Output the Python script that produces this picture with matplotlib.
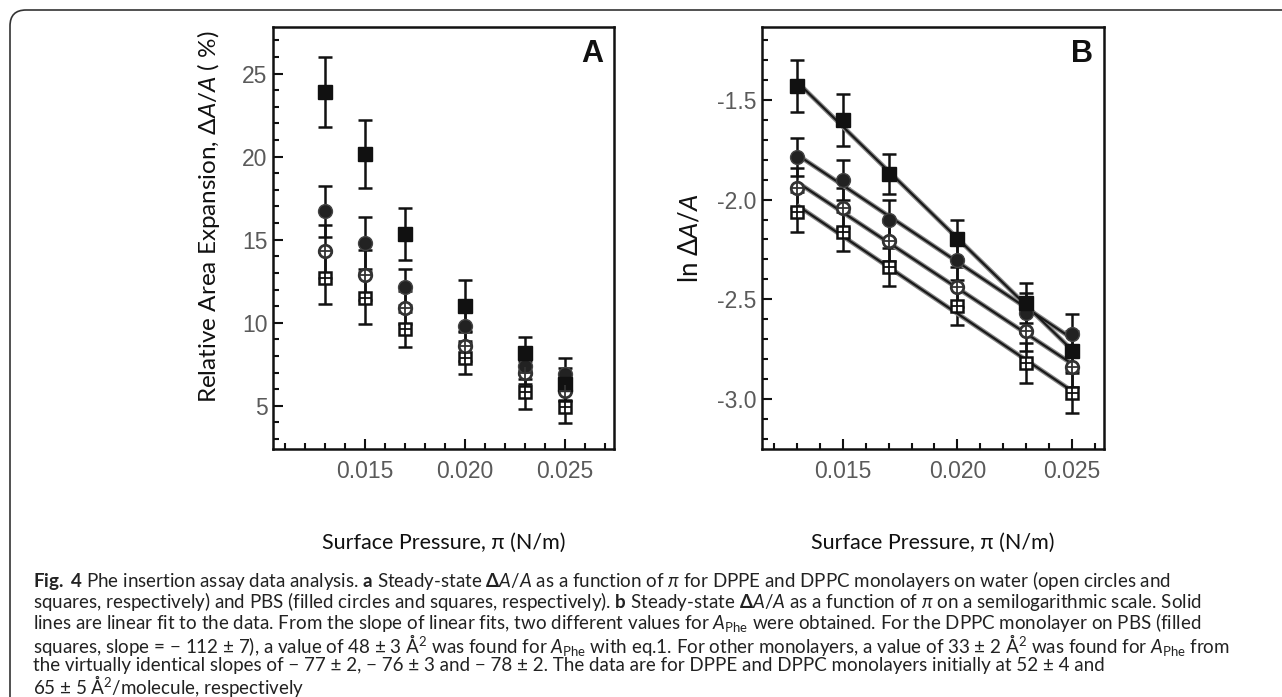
import matplotlib
matplotlib.use("Agg")
import matplotlib.pyplot as plt
from matplotlib.patches import FancyBboxPatch
from matplotlib.ticker import MultipleLocator, FormatStrFormatter
import numpy as np

plt.rcParams["font.family"] = ["Lato", "DejaVu Sans"]
plt.rcParams["mathtext.fontset"] = "custom"
plt.rcParams["mathtext.rm"] = "Lato"
plt.rcParams["mathtext.it"] = "Lato:italic"
plt.rcParams["mathtext.bf"] = "Lato:bold"
plt.rcParams["axes.unicode_minus"] = False

PRESSURE = [0.013, 0.015, 0.017, 0.020, 0.023, 0.025]

# panel A: relative area expansion, %
PBS_DPPC = [23.9, 20.15, 15.35, 11.0, 8.15, 6.3]
PBS_DPPC_ERR = [2.1, 2.05, 1.55, 1.55, 0.97, 0.95]
PBS_DPPE = [16.7, 14.8, 12.15, 9.8, 7.4, 6.9]
PBS_DPPE_ERR = [1.55, 1.55, 1.1, 1.0, 0.8, 1.0]
WATER_DPPE = [14.3, 12.85, 10.9, 8.6, 7.0, 5.9]
WATER_DPPE_ERR = [1.6, 1.5, 1.0, 0.9, 0.7, 0.6]
WATER_DPPC = [12.7, 11.5, 9.6, 7.9, 5.85, 4.95]
WATER_DPPC_ERR = [1.57, 1.55, 1.05, 1.0, 1.05, 1.0]

# panel B: ln(dA/A)
LN_PBS_DPPC = [-1.43, -1.60, -1.87, -2.20, -2.52, -2.76]
LN_PBS_DPPC_ERR = [0.13, 0.13, 0.10, 0.10, 0.10, 0.10]
LN_PBS_DPPE = [-1.785, -1.90, -2.10, -2.305, -2.57, -2.675]
LN_PBS_DPPE_ERR = [0.095, 0.10, 0.10, 0.10, 0.10, 0.10]
LN_WATER_DPPE = [-1.94, -2.04, -2.21, -2.44, -2.66, -2.84]
LN_WATER_DPPE_ERR = [0.10, 0.10, 0.10, 0.10, 0.10, 0.10]
LN_WATER_DPPC = [-2.06, -2.16, -2.34, -2.535, -2.82, -2.97]
LN_WATER_DPPC_ERR = [0.10, 0.10, 0.095, 0.095, 0.10, 0.10]

CAPTION = [
    r"$\mathbf{Fig.\ 4}$ Phe insertion assay data analysis. $\mathbf{a}$ Steady-state $\mathbf{\Delta}\mathit{A/A}$ as a function of $\mathit{\pi}$ for DPPE and DPPC monolayers on water (open circles and",
    r"squares, respectively) and PBS (filled circles and squares, respectively). $\mathbf{b}$ Steady-state $\mathbf{\Delta}\mathit{A/A}$ as a function of $\mathit{\pi}$ on a semilogarithmic scale. Solid",
    r"lines are linear fit to the data. From the slope of linear fits, two different values for $\mathit{A}_{\mathrm{Phe}}$ were obtained. For the DPPC monolayer on PBS (filled",
    r"squares, slope = − 112 ± 7), a value of 48 ± 3 Å$^{2}$ was found for $\mathit{A}_{\mathrm{Phe}}$ with eq.1. For other monolayers, a value of 33 ± 2 Å$^{2}$ was found for $\mathit{A}_{\mathrm{Phe}}$ from",
    r"the virtually identical slopes of − 77 ± 2, − 76 ± 3 and − 78 ± 2. The data are for DPPE and DPPC monolayers initially at 52 ± 4 and",
    r"65 ± 5 Å$^{2}$/molecule, respectively",
]
CAPTION_Y = [581, 601.5, 622, 644.5, 665.5, 686]

W, H = 1282, 697
fig = plt.figure(figsize=(W / 100, H / 100), dpi=100)

frame = FancyBboxPatch((10, -30), 1320, H - 10 + 30,
                       boxstyle="round,pad=0,rounding_size=16",
                       transform=None, facecolor="none",
                       edgecolor="#333333", linewidth=1.2)
fig.add_artist(frame)

ax_a = fig.add_axes([273 / W, 1 - 449 / H, 341 / W, 422 / H])
ax_b = fig.add_axes([762 / W, 1 - 449 / H, 342 / W, 422 / H])

INK = "#111111"
TICK_GREY = "#5a5a5a"


def series(ax, y, err, kind):
    ax.errorbar(PRESSURE, y, yerr=err, fmt="none", ecolor=INK,
                elinewidth=1.8, capsize=5, capthick=1.8, zorder=2)
    if kind == "fsq":
        ax.plot(PRESSURE, y, ls="none", marker="s", ms=10, mfc=INK, mec=INK, zorder=4)
    elif kind == "fci":
        ax.plot(PRESSURE, y, ls="none", marker="o", ms=10, mfc="#222222", mec="#444444",
                mew=1.0, zorder=4)
    elif kind == "osq":
        ax.plot(PRESSURE, y, ls="none", marker="s", ms=9, mfc="white", mec=INK, mew=1.8, zorder=4)
        ax.plot(PRESSURE, y, ls="none", marker="+", ms=8, mec=INK, mew=1.3, zorder=5)
    else:
        ax.plot(PRESSURE, y, ls="none", marker="o", ms=9, mfc="white", mec="#333333", mew=2.0,
                zorder=4)
        ax.plot(PRESSURE, y, ls="none", marker="+", ms=8, mec="#333333", mew=1.3, zorder=5)


def style(ax, ylabel, ysize, ylabel_xy, xlim, ylim, ymajor, yminor, yfmt, letter):
    ax.set_xlim(*xlim)
    ax.set_ylim(*ylim)
    ax.xaxis.set_major_locator(MultipleLocator(0.005))
    ax.xaxis.set_minor_locator(MultipleLocator(0.001))
    ax.xaxis.set_major_formatter(FormatStrFormatter("%.3f"))
    ax.yaxis.set_major_locator(MultipleLocator(ymajor))
    ax.yaxis.set_minor_locator(MultipleLocator(yminor))
    ax.yaxis.set_major_formatter(FormatStrFormatter(yfmt))
    ax.tick_params(which="both", direction="in", top=False, right=False, color=INK, width=1.5)
    ax.tick_params(which="major", length=7)
    ax.tick_params(which="minor", length=4)
    ax.tick_params(axis="x", which="major", pad=8)
    ax.tick_params(axis="y", which="major", pad=4)
    for lab in ax.get_xticklabels() + ax.get_yticklabels():
        lab.set_family(["Liberation Sans", "DejaVu Sans"])
        lab.set_fontsize(16.5)
        lab.set_color(TICK_GREY)
    for sp in ax.spines.values():
        sp.set_linewidth(1.8)
        sp.set_color(INK)
    ax.set_xlabel("Surface Pressure, π (N/m)", fontsize=15.5, color=INK, labelpad=36)
    ax.set_ylabel(ylabel, fontsize=ysize, color=INK)
    ax.yaxis.set_label_coords(*ylabel_xy)
    ax.annotate(letter, xy=(1, 1), xycoords="axes fraction", xytext=(-8, -9),
                textcoords="offset points", ha="right", va="top", fontsize=22,
                fontweight="bold", family=["Liberation Sans", "DejaVu Sans"], color=INK)


# panel A
series(ax_a, WATER_DPPC, WATER_DPPC_ERR, "osq")
series(ax_a, WATER_DPPE, WATER_DPPE_ERR, "oci")
series(ax_a, PBS_DPPE, PBS_DPPE_ERR, "fci")
series(ax_a, PBS_DPPC, PBS_DPPC_ERR, "fsq")
style(ax_a, r"Relative Area Expansion, Δ$\mathit{A/A}$ ( %)", 17.5, (-0.15, 0.55),
      (0.0104, 0.02745), (2.4, 27.8), 5, 1, "%d", "A")

# panel B with linear fits
x = np.array(PRESSURE)
for y in [LN_PBS_DPPC, LN_PBS_DPPE, LN_WATER_DPPE, LN_WATER_DPPC]:
    k, b = np.polyfit(x, y, 1)
    xs = np.array([x.min(), x.max()])
    ax_b.plot(xs, k * xs + b, color="#8a8a8a", lw=3.4, zorder=3, solid_capstyle="butt")
    ax_b.plot(xs, k * xs + b, color="#1a1a1a", lw=1.6, zorder=3.1, solid_capstyle="butt")
series(ax_b, LN_WATER_DPPC, LN_WATER_DPPC_ERR, "osq")
series(ax_b, LN_WATER_DPPE, LN_WATER_DPPE_ERR, "oci")
series(ax_b, LN_PBS_DPPE, LN_PBS_DPPE_ERR, "fci")
series(ax_b, LN_PBS_DPPC, LN_PBS_DPPC_ERR, "fsq")
style(ax_b, r"ln Δ$\mathit{A/A}$", 18.5, (-0.175, 0.5),
      (0.01147, 0.0264), (-3.25, -1.135), 0.5, 0.1, "%.1f", "B")

# caption
for line, ypix in zip(CAPTION, CAPTION_Y):
    fig.text(33 / W, 1 - ypix / H, line, fontsize=13.5, color="#222222",
             ha="left", va="center")

fig.savefig("out.png", dpi=100)
